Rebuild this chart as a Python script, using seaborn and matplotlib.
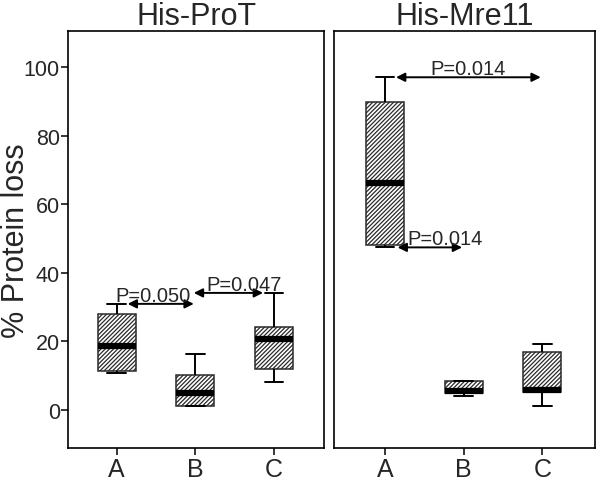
import matplotlib
matplotlib.use("Agg")
import matplotlib.pyplot as plt
import seaborn as sns
import pandas as pd

# five values per group (min, q1, median, q3, max)
groups = ['A', 'B', 'C']
prot_A = [10.6, 11.2, 18.5, 27.9, 30.9]
prot_B = [1.0, 1.2, 4.9, 10.2, 16.3]
prot_C = [8.2, 11.9, 20.6, 24.1, 34.1]
mre_A = [47.4, 48.2, 66.1, 89.8, 97.1]
mre_B = [4.1, 4.9, 5.4, 8.5, 8.5]
mre_C = [1.0, 5.1, 5.6, 16.8, 19.2]

# comparisons: (from group, to group, p label, label x, arrow height taken from)
prot_tests = [('A', 'B', 'P=0.050', 0.46, 'max'), ('B', 'C', 'P=0.047', 1.62, 'maxto')]
mre_tests = [('A', 'C', 'P=0.014', 1.05, 'max'), ('A', 'B', 'P=0.014', 0.76, 'min')]

yticks = [0, 20, 40, 60, 80, 100]

sns.set_style('ticks')
plt.rcParams['font.family'] = ['Liberation Sans', 'DejaVu Sans']
plt.rcParams['hatch.linewidth'] = 0.9


def make_df(a, b, c):
    return pd.DataFrame({
        'group': ['A'] * len(a) + ['B'] * len(b) + ['C'] * len(c),
        'value': a + b + c})


def draw_panel(ax, df, title, tests, xlim):
    sns.boxplot(data=df, x='group', y='value', order=groups, ax=ax,
                color='white', linecolor='#2a2a2a', linewidth=1.1, width=0.48,
                whis=10, fill=True,
                medianprops={'color': 'black', 'linewidth': 4.5},
                whiskerprops={'color': 'black', 'linewidth': 1.4},
                capprops={'color': 'black', 'linewidth': 1.4})
    for p in ax.patches:
        p.set_hatch('////////')
    ax.set_xlim(*xlim)
    ax.set_ylim(-11.3, 110.7)
    ax.set_yticks(yticks)
    ax.set_xlabel('')
    ax.set_ylabel('')
    ax.set_title(title, fontsize=22, pad=4)
    for s in ax.spines.values():
        s.set_visible(True)
        s.set_linewidth(1.2)
        s.set_color('black')
    ax.tick_params(axis='x', length=5, width=1.3, labelsize=18, pad=1.5)
    ax.tick_params(axis='y', length=5, width=1.3, labelsize=15.5, pad=1)
    pos = {g: i for i, g in enumerate(groups)}
    vals = df.groupby('group')['value']
    for g1, g2, lab, tx, where in tests:
        x1, x2 = pos[g1], pos[g2]
        if where == 'max':
            y = vals.max()[g1]
            xa, xb = x1 + 0.14, x2 - 0.02
        elif where == 'min':
            y = vals.min()[g1]
            xa, xb = x1 + 0.16, x2 - 0.02
        else:
            y = vals.max()[g2]
            xa, xb = x1 - 0.02, x2 - 0.14
        ax.annotate('', xy=(xb, y), xytext=(xa, y),
                    arrowprops=dict(arrowstyle='<|-|>', color='black', lw=1.4,
                                    shrinkA=0, shrinkB=0, mutation_scale=13))
        ax.text(tx, y + 0.9, lab, ha='center', va='baseline', fontsize=14.5)


fig = plt.figure(figsize=(6, 4.85), dpi=100)
ax1 = fig.add_axes([0.1138, 0.0736, 0.4262, 0.861])
ax2 = fig.add_axes([0.5567, 0.0736, 0.435, 0.861])

draw_panel(ax1, make_df(prot_A, prot_B, prot_C), 'His-ProT', prot_tests, (-0.615, 2.635))
draw_panel(ax2, make_df(mre_A, mre_B, mre_C), 'His-Mre11', mre_tests, (-0.648, 2.67))

fig.text(0.5 / 600, 0.0736 + 0.861 / 2, '% Protein loss', fontsize=22,
         rotation=90, ha='left', va='center')
ax2.tick_params(axis='y', left=False, labelleft=False)

fig.savefig('out.png', dpi=100)
